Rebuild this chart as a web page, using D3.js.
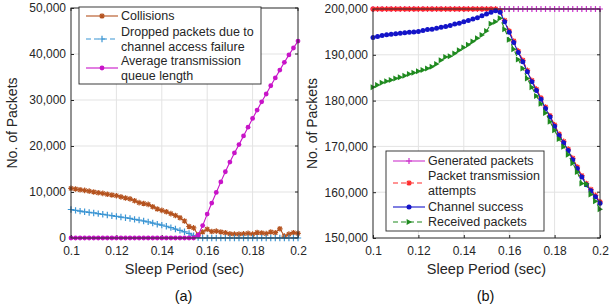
<!DOCTYPE html>
<html><head><meta charset="utf-8">
<script src="https://cdn.jsdelivr.net/npm/d3@7"></script>
<style>
html,body{margin:0;padding:0;background:#fff;}
svg{display:block;font-family:"Liberation Sans",Arial,Helvetica,sans-serif;}
</style></head>
<body>
<svg id="c" width="609" height="306"></svg>
<script>
// ---------- data ----------
const sleepPeriods = d3.range(51).map(i => +(0.1 + i * 0.002).toFixed(3));

const collisions = [10800,10650,10500,10350,10200,10000,9850,9700,9500,9350,
  9200,8950,8700,8500,8100,7700,7500,7300,6800,6300,
  6000,5700,5300,4900,4400,3700,2500,2200,700,1300,
  1900,1400,1500,1300,1150,900,850,850,900,1000,
  850,1200,1100,950,1300,1150,2000,400,850,1150,1000];

const droppedPackets = [6200,6000,5850,5700,5550,5450,5300,5150,5000,4850,
  4700,4550,4400,4250,4050,3900,3700,3500,3250,3000,
  2800,2550,2250,1950,1650,1350,1000,500,100,0,
  0,0,0,0,0,0,0,0,0,0,
  0,0,0,0,0,0,0,0,0,0,0];

const avgQueueLength = [0,0,0,0,0,0,0,0,0,0,
  0,0,0,0,0,0,0,0,0,0,
  0,0,0,0,0,0,0,0,600,2700,
  5200,7600,9900,12200,14400,16500,18500,20300,22200,24100,
  26000,27800,29600,31300,33100,34800,36500,38200,39800,41300,42800];

const generatedPackets = new Array(51).fill(200000);

const channelSuccess = [193800,194000,194200,194400,194500,194600,194700,194800,194900,195000,
  195100,195300,195500,195600,195800,196000,196200,196400,196700,196900,
  197200,197500,197800,198100,198500,198900,199300,199600,199300,197200,
  194900,192700,190500,188500,186300,184100,182200,180300,178300,176400,
  174400,172400,170800,169100,167100,165200,163300,161600,160300,159000,157600];

const transmissionAttempts = [200000,200000,200000,200000,200000,200000,200000,200000,200000,200000,
  200000,200000,200000,200000,200000,200000,200000,200000,200000,200000,
  200000,200000,200000,200000,200000,200000,200000,200000,199600,197500,
  195200,193000,190800,188800,186600,184400,182500,180600,178600,176700,
  174700,172700,171100,169400,167400,165500,163600,161900,160600,159300,157900];

const receivedPackets = [182900,183400,183900,184200,184500,184800,185100,185400,185800,186100,
  186400,186700,187000,187400,188000,188800,189500,189700,190300,191000,
  191600,192200,192900,193600,194300,195200,196800,197200,198000,195600,
  193300,191200,189000,187000,184800,182900,181000,179300,177300,175400,
  173500,171600,169900,168200,166300,164400,161900,161800,159500,158000,156300];

const xTicks = [0.1,0.12,0.14,0.16,0.18,0.2];
const yTicksA = [0,10000,20000,30000,40000,50000];
const yTicksB = [150000,160000,170000,180000,190000,200000];

// ---------- drawing ----------
const svg = d3.select("#c");
const textCol = "#262626";
const fmt = d3.format(",");
const xFmt = d => String(+d);

function marker(g, type, x, y, color, s) {
  if (type === "dot") {
    g.append("circle").attr("cx", x).attr("cy", y).attr("r", s).attr("fill", color);
  } else if (type === "plus") {
    g.append("path").attr("d", `M${x-s},${y}H${x+s}M${x},${y-s}V${y+s}`)
      .attr("stroke", color).attr("stroke-width", 1.2).attr("fill", "none");
  } else if (type === "star") {
    const d = s * 0.72;
    g.append("path").attr("d", `M${x-s},${y}H${x+s}M${x},${y-s}V${y+s}M${x-d},${y-d}L${x+d},${y+d}M${x-d},${y+d}L${x+d},${y-d}`)
      .attr("stroke", color).attr("stroke-width", 1.2).attr("fill", "none");
  } else if (type === "tri") {
    g.append("path").attr("d", `M${x+s},${y}L${x-s*0.8},${y-s}L${x-s*0.8},${y+s}Z`).attr("fill", color);
  }
}

function panel(opts) {
  const {x0, x1, y0, y1, yDomain, yTicks, series, legend, caption, ylabX} = opts;
  const x = d3.scaleLinear().domain([0.1, 0.2]).range([x0, x1]);
  const y = d3.scaleLinear().domain(yDomain).range([y1, y0]);
  const g = svg.append("g");

  // grid
  g.append("g").selectAll("line").data(xTicks.slice(1, -1)).join("line")
    .attr("x1", d => x(d)).attr("x2", d => x(d)).attr("y1", y0).attr("y2", y1)
    .attr("stroke", "#e3e3e3").attr("stroke-width", 1);
  g.append("g").selectAll("line").data(yTicks.slice(1, -1)).join("line")
    .attr("y1", d => y(d)).attr("y2", d => y(d)).attr("x1", x0).attr("x2", x1)
    .attr("stroke", "#e3e3e3").attr("stroke-width", 1);

  // axes
  const ax = g.append("g").attr("transform", `translate(0,${y1})`)
    .call(d3.axisBottom(x).tickValues(xTicks).tickFormat(xFmt).tickSizeInner(-3).tickSizeOuter(0).tickPadding(8));
  const ay = g.append("g").attr("transform", `translate(${x0},0)`)
    .call(d3.axisLeft(y).tickValues(yTicks).tickFormat(fmt).tickSizeInner(-3).tickSizeOuter(0).tickPadding(5));
  [ax, ay].forEach(a => {
    a.select(".domain").remove();
    a.selectAll("line").attr("stroke", textCol);
    a.selectAll("text").attr("fill", textCol).attr("font-size", 12).attr("font-family", "Liberation Sans, Arial, sans-serif");
  });
  // top/right ticks
  g.append("g").selectAll("line").data(xTicks).join("line")
    .attr("x1", d => x(d)).attr("x2", d => x(d)).attr("y1", y0).attr("y2", y0 + 3).attr("stroke", textCol);
  g.append("g").selectAll("line").data(yTicks).join("line")
    .attr("y1", d => y(d)).attr("y2", d => y(d)).attr("x1", x1).attr("x2", x1 - 3).attr("stroke", textCol);

  // series
  series.forEach(s => {
    const line = d3.line().x((d, i) => x(sleepPeriods[i])).y(d => y(d));
    g.append("path").datum(s.values).attr("d", line).attr("fill", "none")
      .attr("stroke", s.color).attr("stroke-width", 1.1)
      .attr("stroke-dasharray", s.dash ? "5,3" : null);
    const mg = g.append("g");
    s.values.forEach((v, i) => marker(mg, s.marker, x(sleepPeriods[i]), y(v), s.color, s.size));
  });

  // box
  g.append("rect").attr("x", x0).attr("y", y0).attr("width", x1 - x0).attr("height", y1 - y0)
    .attr("fill", "none").attr("stroke", textCol).attr("stroke-width", 1);

  // legend
  const lg = g.append("g");
  lg.append("rect").attr("x", legend.x).attr("y", legend.y).attr("width", legend.w).attr("height", legend.h)
    .attr("fill", "#fff").attr("stroke", textCol).attr("stroke-width", 0.9);
  legend.items.forEach(it => {
    const s = series[it.idx];
    const ly = it.lineY;
    lg.append("line").attr("x1", legend.x + 7).attr("x2", legend.x + 39).attr("y1", ly).attr("y2", ly)
      .attr("stroke", s.color).attr("stroke-width", 1.1).attr("stroke-dasharray", s.dash ? "5,3" : null);
    marker(lg, s.marker, legend.x + 23, ly, s.color, s.size);
    it.lines.forEach((t, k) => {
      lg.append("text").attr("x", legend.x + 42).attr("y", it.textY + k * 15)
        .attr("dy", "0.35em").attr("font-size", 12.5).attr("fill", textCol).text(t);
    });
  });

  // labels
  g.append("text").attr("x", (x0 + x1) / 2).attr("y", 269).attr("dy", "0.35em")
    .attr("text-anchor", "middle").attr("font-size", 14.5).attr("fill", textCol).text("Sleep Period (sec)");
  g.append("text").attr("transform", `translate(${ylabX},${(y0 + y1) / 2}) rotate(-90)`)
    .attr("dy", "0.35em").attr("text-anchor", "middle").attr("font-size", 14).attr("fill", textCol).text("No. of Packets");
  g.append("text").attr("x", (x0 + x1) / 2 - 1).attr("y", 296).attr("dy", "0.35em")
    .attr("text-anchor", "middle").attr("font-size", 14.5).attr("fill", "#111").text(caption);
}

panel({
  x0: 71, x1: 298, y0: 8, y1: 238, yDomain: [0, 50000], yTicks: yTicksA, ylabX: 12,
  caption: "(a)",
  series: [
    {values: collisions, color: "#b5531f", marker: "star", size: 2.8, dash: false},
    {values: droppedPackets, color: "#3b95d3", marker: "plus", size: 3.2, dash: true},
    {values: avgQueueLength, color: "#c814c8", marker: "dot", size: 2.4, dash: false}
  ],
  legend: {x: 79, y: 7, w: 182, h: 77, items: [
    {idx: 0, lineY: 16, textY: 16, lines: ["Collisions"]},
    {idx: 1, lineY: 39, textY: 32, lines: ["Dropped packets due to", "channel access failure"]},
    {idx: 2, lineY: 68, textY: 61, lines: ["Average transmission", "queue length"]}
  ]}
});

panel({
  x0: 373, x1: 600, y0: 9, y1: 238, yDomain: [150000, 200000], yTicks: yTicksB, ylabX: 312,
  caption: "(b)",
  series: [
    {values: generatedPackets, color: "#cc33cc", marker: "plus", size: 3, dash: false},
    {values: transmissionAttempts, color: "#ff2a2a", marker: "star", size: 2.8, dash: true},
    {values: channelSuccess, color: "#1414c8", marker: "dot", size: 2.5, dash: false},
    {values: receivedPackets, color: "#1f8a1f", marker: "tri", size: 3, dash: true}
  ],
  legend: {x: 386, y: 151, w: 158, h: 80, items: [
    {idx: 0, lineY: 161, textY: 161, lines: ["Generated packets"]},
    {idx: 1, lineY: 183, textY: 176, lines: ["Packet transmission", "attempts"]},
    {idx: 2, lineY: 207, textY: 207, lines: ["Channel success"]},
    {idx: 3, lineY: 222, textY: 222, lines: ["Received packets"]}
  ]}
});
</script>
</body></html>
